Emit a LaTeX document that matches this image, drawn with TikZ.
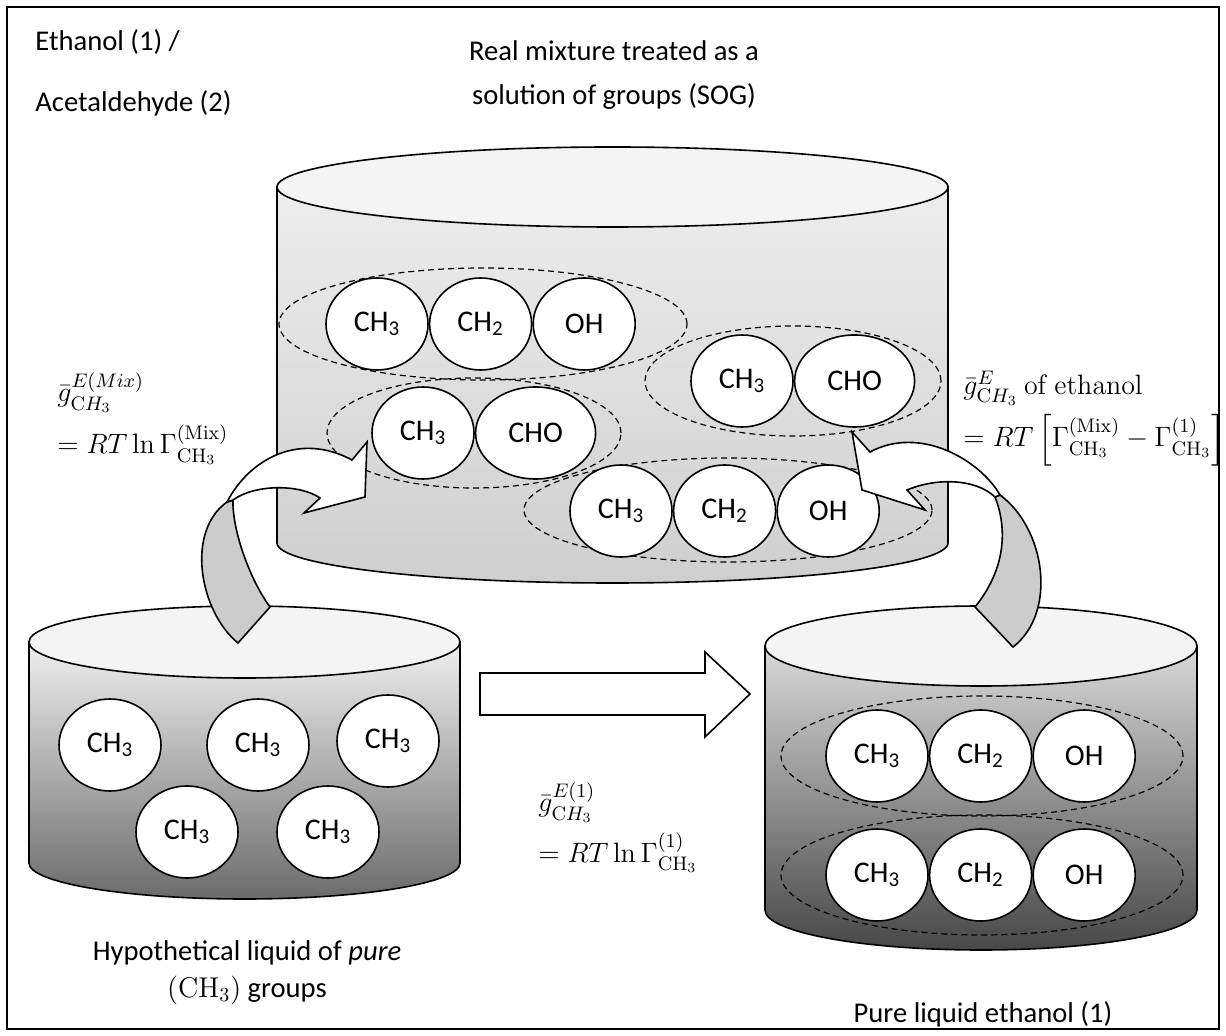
\RequirePackage{fix-cm}
\documentclass[tikz,border=0pt]{standalone}
\usepackage{amsmath}
\usepackage[no-math]{fontspec}
\setmainfont{Carlito}
\usetikzlibrary{shapes.geometric,positioning}
\definecolor{topface}{HTML}{F4F4F4}
\definecolor{ribbongray}{HTML}{CCCCCC}
\newcommand{\drum}[7]{%
  \shade[top color=#6, bottom color=#7, draw, line width=0.8pt]
    (#1-#4,#2) -- (#1-#4,#3) arc[start angle=180, end angle=360, x radius=#4*0.5pt, y radius=#5*0.5pt]
    -- (#1+#4,#2) -- cycle;
  \draw[fill=topface, line width=0.8pt] (#1,#2) ellipse [x radius=#4*0.5pt, y radius=#5*0.5pt];
}
\newcommand{\molring}[4]{%
  \draw[mol] (#1,#2) ellipse [x radius=#3*0.5pt, y radius=#4*0.5pt];
}
\tikzset{
  grp/.style={ellipse, draw, fill=white, line width=0.8pt, minimum width=51pt,
    minimum height=46pt, inner sep=0pt, font=\fontsize{15}{17}\selectfont},
  cho/.style={grp, minimum width=60pt},
  mol/.style={dash pattern=on 3pt off 2pt, line width=0.6pt},
  lbl/.style={font=\fontsize{14.3}{16}\selectfont, inner sep=0pt},
  eq/.style={font=\fontsize{14}{17}\selectfont, inner sep=0pt, anchor=base west},
  ribbon/.style={draw, line width=0.8pt, line join=miter},
}
\begin{document}
\begin{tikzpicture}[x=0.5pt, y=-0.5pt]
\useasboundingbox (0,0) rectangle (1226,1036);
\draw[line width=0.75pt] (7,7) rectangle (1219,1029);

\node[lbl, anchor=base west] (sys1) at (35,51) {Ethanol (1) /};
\node[lbl, anchor=base west] (sys2) at (35,112) {Acetaldehyde (2)};
\node[lbl, anchor=base] (sog1) at (614,61) {Real mixture treated as a};
\node[lbl, anchor=base] (sog2) at (614,105) {solution of groups (SOG)};

% real mixture
\drum{612.5}{187}{543}{335.5}{40}{black!7}{black!19}
\molring{483}{324}{204}{56}
\molring{474}{433}{147}{55}
\molring{793}{381}{148}{55}
\molring{728}{510}{204}{52}
\node[grp] (m1a) at (377,324) {CH\textsubscript{3}};
\node[grp, right=0pt of m1a] (m1b) {CH\textsubscript{2}};
\node[grp, right=0pt of m1b] (m1c) {OH};
\node[grp] (m2a) at (423,433) {CH\textsubscript{3}};
\node[cho, right=0pt of m2a] (m2b) {CHO};
\node[grp] (m3a) at (742,381) {CH\textsubscript{3}};
\node[cho, right=0pt of m3a] (m3b) {CHO};
\node[grp] (m4a) at (621,511) {CH\textsubscript{3}};
\node[grp, right=0pt of m4a] (m4b) {CH\textsubscript{2}};
\node[grp, right=0pt of m4b] (m4c) {OH};

% pure CH3 groups
\drum{244.5}{642}{863}{215.5}{36}{black!6}{black!58}
\node[grp] (h1) at (110,745) {CH\textsubscript{3}};
\node[grp] (h2) at (258,745) {CH\textsubscript{3}};
\node[grp] (h3) at (388,741) {CH\textsubscript{3}};
\node[grp] (h4) at (187,832) {CH\textsubscript{3}};
\node[grp] (h5) at (328,832) {CH\textsubscript{3}};
\node[lbl, anchor=base] (hyp1) at (247,960) {Hypothetical liquid of \emph{pure}};
\node[lbl, anchor=base] (hyp2) at (247,997) {$(\mathrm{CH_3})$ groups};

% pure ethanol
\drum{981}{646}{910}{216}{40}{black!15}{black!72}
\molring{982}{756}{201}{60}
\molring{982}{875}{201}{60}
\node[grp] (e1a) at (877,756) {CH\textsubscript{3}};
\node[grp, right=0pt of e1a] (e1b) {CH\textsubscript{2}};
\node[grp, right=0pt of e1b] (e1c) {OH};
\node[grp] (e2a) at (877,875) {CH\textsubscript{3}};
\node[grp, right=0pt of e2a] (e2b) {CH\textsubscript{2}};
\node[grp, right=0pt of e2b] (e2c) {OH};
\node[lbl, anchor=base] (eth) at (983,1022) {Pure liquid ethanol (1)};

% block arrow
\draw[ribbon, fill=white] (480,673) -- (705,673) -- (705,652) -- (750,694)
  -- (705,737) -- (705,715) -- (480,715) -- cycle;

% curved arrows
\draw[ribbon, fill=ribbongray] (238,643) .. controls (200,612) and (185,532) .. (227,502)
  -- (233,500) .. controls (232,530) and (250,580) .. (270,607) -- cycle;
\draw[ribbon, fill=white] (227,502) .. controls (250,458) and (300,432) .. (352,460)
  -- (367,442) -- (365,497) -- (304,513) -- (320,498)
  .. controls (300,484) and (255,484) .. (233,500) -- cycle;
\draw[ribbon, fill=ribbongray] (1013,647) .. controls (1058,612) and (1045,528) .. (1000,495)
  -- (995,497) .. controls (1008,530) and (1005,570) .. (975,607) -- cycle;
\draw[ribbon, fill=white] (1000,495) .. controls (980,460) and (920,425) .. (870,452)
  -- (852,432) -- (862,490) -- (925,510) -- (907,490)
  .. controls (935,478) and (975,478) .. (995,497) -- cycle;

% formulas
\node[eq] (gmix1) at (57,402) {$\bar{g}^{E(Mix)}_{\mathrm{C}H_3}$};
\node[eq] (gmix2) at (57,454) {$= RT\ln\Gamma^{(\mathrm{Mix})}_{\mathrm{CH_3}}$};
\node[eq] (gpure1) at (538,812) {$\bar{g}^{E(1)}_{\mathrm{C}H_3}$};
\node[eq] (gpure2) at (538,862) {$= RT\ln\Gamma^{(1)}_{\mathrm{CH_3}}$};
\node[eq] (geth1) at (963,395) {$\bar{g}^{E}_{\mathrm{C}H_3}\ \mathrm{of\ ethanol}$};
\node[eq] (geth2) at (963,447) {$= RT\left[\Gamma^{(\mathrm{Mix})}_{\mathrm{CH_3}}-\Gamma^{(1)}_{\mathrm{CH_3}}\right]$};
\end{tikzpicture}
\end{document}
